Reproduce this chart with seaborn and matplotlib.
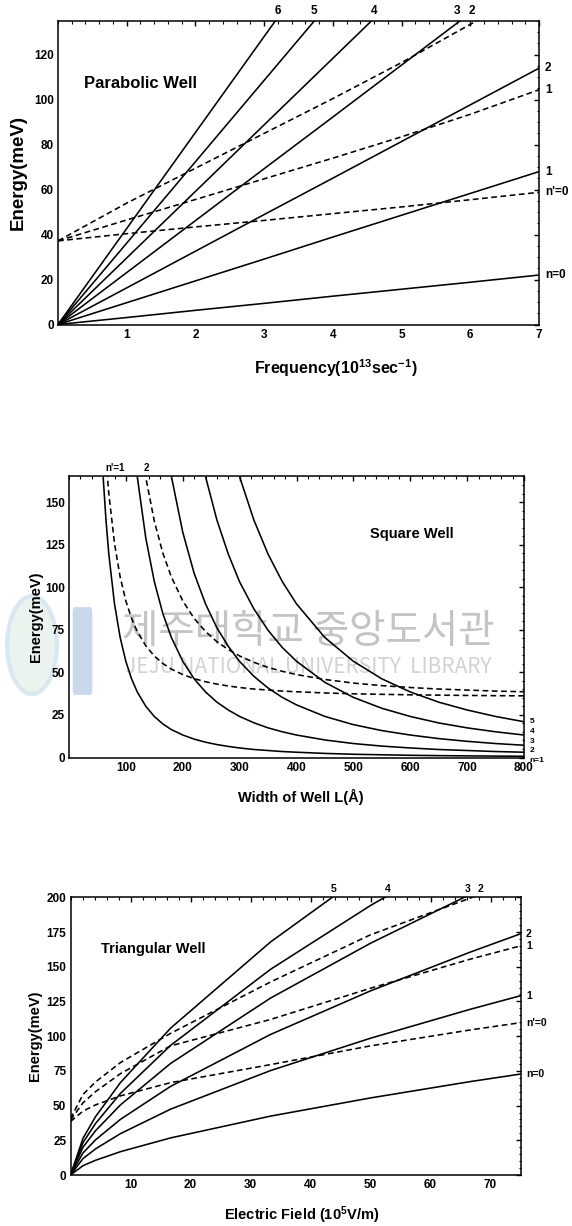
import numpy as np
import pandas as pd
import matplotlib
matplotlib.use("Agg")
import matplotlib.pyplot as plt
from matplotlib.ticker import MultipleLocator
from matplotlib.patches import FancyBboxPatch, Ellipse
import seaborn as sns

nan = np.nan

# ---------------- Parabolic well: energy vs frequency ----------------
freq = [0, 1, 2, 3, 4, 5, 6, 7]
para_n = {
    "n=0": [0, 3.1, 6.3, 9.4, 12.6, 15.7, 18.8, 22.0],
    "1": [0, 9.7, 19.4, 29.1, 38.9, 48.6, 58.3, 68.0],
    "2": [0, 16.3, 32.6, 48.9, 65.1, 81.4, 97.7, 114.0],
    "3": [0, 23.1, 46.2, 69.3, 92.3, 115.4, 138.5, 161.6],
    "4": [0, 29.6, 59.2, 88.8, 118.4, 148.0, 177.6, nan],
    "5": [0, 36.2, 72.4, 108.6, 144.8, nan, nan, nan],
    "6": [0, 42.7, 85.4, 128.1, 170.8, nan, nan, nan],
}
para_np = {
    "n'=0": [37.2, 40.4, 43.4, 46.3, 49.3, 52.3, 55.5, 58.8],
    "1": [37.2, 46.5, 55.6, 64.8, 74.0, 83.5, 93.5, 104.4],
    "2": [37.2, 54.0, 69.5, 85.0, 100.5, 116.5, 133.5, 151.0],
}
para_top = {"6": 3.2, "5": 3.73, "4": 4.6, "3": 5.81, "2": 6.03}
para_right = {"2": 114.0, "1 ": 104.4, "1": 68.0, "n'=0": 58.8, "n=0": 22.0}

# ---------------- Square well: energy vs well width ----------------
width_L = [55, 60, 65, 70, 80, 90, 100, 110, 120, 135, 150, 165, 180, 200, 220,
           240, 260, 280, 300, 325, 350, 375, 400, 450, 500, 550, 600, 650, 700,
           750, 800]
sq_n1 = [198.1, 165.0, 139.5, 119.4, 90.2, 70.4, 56.4, 46.2, 38.5, 30.1, 24.1,
         19.7, 16.4, 13.2, 10.8, 9.0, 7.6, 6.5, 5.6, 4.7, 4.1, 3.5, 3.1, 2.4,
         1.9, 1.6, 1.3, 1.1, 0.95, 0.82, 0.72]
sq_n2 = [nan] * 7 + [198.1, 165.0, 128.9, 103.3, 84.5, 70.5, 56.5, 46.2, 38.5,
                     32.5, 27.9, 24.1, 20.4, 17.4, 15.1, 13.2, 10.3, 8.2, 6.7,
                     5.6, 4.7, 4.1, 3.5, 3.1]
sq_n3 = [nan] * 11 + [198.1, 165.1, 132.3, 108.2, 90.2, 76.2, 65.3, 56.4, 47.7,
                      40.8, 35.3, 30.9, 24.1, 19.3, 15.8, 13.2, 11.1, 9.5, 8.2,
                      7.2]
sq_n4 = [nan] * 14 + [198.0, 165.0, 139.5, 119.5, 103.1, 87.3, 74.7, 64.6, 56.5,
                      44.1, 35.3, 28.9, 24.1, 20.3, 17.4, 15.1, 13.2]
sq_n5 = [nan] * 17 + [190.9, 164.8, 139.5, 119.4, 103.3, 90.2, 70.4, 56.5, 46.2,
                      38.5, 32.5, 27.9, 24.1, 21.0]
sq_np1 = [nan] + [200.5, 175.0, 154.9, 125.7, 105.9, 91.9, 81.7, 74.0, 65.6,
                  59.6, 55.2, 51.9, 48.7, 46.3, 44.5, 43.1, 42.0, 41.1, 40.2,
                  39.6, 39.0, 38.6, 37.9, 37.4, 37.1, 36.8, 36.6, 36.45, 36.3,
                  36.2]
sq_np2 = [nan] * 8 + [200.5, 164.4, 138.8, 120.0, 106.0, 92.0, 81.7, 74.0, 68.0,
                      63.4, 59.6, 55.9, 52.9, 50.6, 48.7, 45.8, 43.7, 42.2, 41.1,
                      40.2, 39.6, 39.0, 38.6]
sq_top = {"n'=1": 81, "2": 136}
sq_right = {"5": 21.0, "4": 15.0, "3": 9.5, "2": 4.0, "n=1": -1.8}

# ---------------- Triangular well: energy vs electric field ----------------
field = [0, 2.08, 4.17, 8.33, 16.67, 33.33, 50, 66.67, 75]
tri_n = {
    "n=0": [0, 6.7, 10.6, 16.8, 26.7, 42.4, 55.5, 67.3, 72.7],
    "1": [0, 11.8, 18.8, 29.8, 47.4, 75.2, 98.5, 119.4, 129.1],
    "2": [0, 15.9, 25.3, 40.1, 63.8, 101.2, 132.6, 160.6, 173.7],
    "3": [0, 20.0, 31.9, 50.5, 80.3, 127.4, 166.9, 202.2, 218.7],
    "4": [0, 23.3, 37.1, 58.8, 93.3, 148.1, 194.1, 235.1, 254.3],
    "5": [0, 26.4, 42.0, 66.6, 105.7, 167.8, 219.9, 266.4, 288.1],
}
tri_np = {
    "n'=0": [38.5, 46.0, 50.5, 57.0, 66.5, 79.5, 93.0, 104.5, 109.7],
    "1": [39.5, 52.0, 60.0, 73.0, 93.0, 112.0, 134.5, 155.5, 165.0],
    "2": [40.5, 58.0, 67.0, 81.0, 102.0, 139.0, 173.0, 199.5, 213.0],
}
tri_top = {"5": 43.8, "4": 52.8, "3": 66.2, "2": 68.3}
tri_right = {"2": 173.7, "1 ": 165.0, "1": 129.1, "n'=0": 109.7, "n=0": 72.7}

# ---------------- styling ----------------
sns.set_theme(style="white")
plt.rcParams["font.family"] = ["Liberation Sans", "DejaVu Sans"]
plt.rcParams["font.weight"] = "bold"
plt.rcParams["text.color"] = "black"
plt.rcParams["axes.labelcolor"] = "black"
plt.rcParams["xtick.color"] = "black"
plt.rcParams["ytick.color"] = "black"
plt.rcParams["mathtext.fontset"] = "custom"
plt.rcParams["mathtext.rm"] = "Liberation Sans:bold"
plt.rcParams["mathtext.it"] = "Liberation Sans:bold"
plt.rcParams["mathtext.bf"] = "Liberation Sans:bold"
plt.rcParams["axes.linewidth"] = 1.1

LW = 1.15
DASH = (0, (3.6, 2.2))
TICK = 8.5

fig = plt.figure(figsize=(5.72, 12.26), dpi=100)
W, H = 572.0, 1226.0


def add_axes(left, right, top, bottom):
    return fig.add_axes([left / W, 1 - bottom / H, (right - left) / W, (bottom - top) / H])


def style_axes(ax, tick_size):
    ax.tick_params(which="both", direction="in", top=True, right=True,
                   labeltop=False, labelright=False, colors="black",
                   labelsize=tick_size, pad=3)
    ax.tick_params(which="major", length=3.5, width=1.0)
    ax.tick_params(which="minor", length=1.8, width=0.8)
    for lab in ax.get_xticklabels() + ax.get_yticklabels():
        lab.set_fontweight("bold")
    for s in ax.spines.values():
        s.set_color("black")


def draw(ax, x, y, dashed=False):
    df = pd.DataFrame({"x": x, "y": y}).dropna()
    sns.lineplot(data=df, x="x", y="y", ax=ax, color="black", linewidth=LW,
                 linestyle=DASH if dashed else "-", sort=True, estimator=None)


def labels_right(ax, items, size):
    for txt, yv in items.items():
        ax.text(1.012, yv, txt.strip(), transform=ax.get_yaxis_transform(),
                ha="left", va="center", fontsize=size, fontweight="bold",
                clip_on=False)


def labels_top(ax, items, size):
    for txt, xv in items.items():
        ax.text(xv, 1.012, txt, transform=ax.get_xaxis_transform(),
                ha="center", va="bottom", fontsize=size, fontweight="bold",
                clip_on=False)


# ---- panel 1 ----
ax1 = add_axes(58, 539, 21, 324.5)
for vals in para_n.values():
    draw(ax1, freq, vals)
for vals in para_np.values():
    draw(ax1, freq, vals, dashed=True)
ax1.set_xlim(0, 7)
ax1.set_ylim(0, 135)
ax1.set_xticks([1, 2, 3, 4, 5, 6, 7])
ax1.set_yticks([0, 20, 40, 60, 80, 100, 120])
ax1.xaxis.set_minor_locator(MultipleLocator(0.2))
ax1.yaxis.set_minor_locator(MultipleLocator(5))
style_axes(ax1, TICK)
ax1.set_xlabel(r"Frequency(10$^{13}$sec$^{-1}$)", fontsize=11.5, fontweight="bold")
ax1.set_ylabel("Energy(meV)", fontsize=13.5, fontweight="bold")
ax1.xaxis.set_label_coords(0.578, -0.145)
ax1.xaxis.label.set_va("center")
ax1.yaxis.set_label_coords(-0.083, 0.5)
ax1.yaxis.label.set_va("center")
ax1.text(0.38, 107, "Parabolic Well", fontsize=12, fontweight="bold",
         ha="left", va="center")
labels_top(ax1, para_top, 8.5)
labels_right(ax1, para_right, 8.5)

# ---- panel 2 ----
# faint library stamp behind the square-well curves
fig.patches.append(Ellipse((32 / W, 1 - 645 / H), 50 / W, 98 / H,
                           transform=fig.transFigure, facecolor="#e6f0ea",
                           edgecolor="#d3e4ef", linewidth=3, alpha=0.8,
                           zorder=-2))
fig.patches.append(FancyBboxPatch((75 / W, 1 - 690 / H), 15 / W, 78 / H,
                                  boxstyle="round,pad=0.004",
                                  transform=fig.transFigure,
                                  facecolor="#bccfe8", edgecolor="none",
                                  alpha=0.8, zorder=-2))
ax2 = add_axes(69, 524, 476.5, 757.5)
ax2.set_facecolor("none")
ax2.text(0.525, 0.447, "제주대학교 중앙도서관", transform=ax2.transAxes,
         fontsize=28.5, color="#c4c4c4", ha="center", va="center",
         family=["Noto Sans CJK KR"], fontweight="normal", zorder=0.5)
ax2.text(0.525, 0.322, "JEJU NATIONAL UNIVERSITY  LIBRARY", transform=ax2.transAxes,
         fontsize=15, color="#d2d2d2", ha="center", va="center",
         family=["Noto Sans CJK KR"], fontweight="normal", zorder=0.5)
for vals in (sq_n1, sq_n2, sq_n3, sq_n4, sq_n5):
    draw(ax2, width_L, vals)
for vals in (sq_np1, sq_np2):
    draw(ax2, width_L, vals, dashed=True)
ax2.set_xlim(0, 800)
ax2.set_ylim(0, 165)
ax2.set_xticks([100, 200, 300, 400, 500, 600, 700, 800])
ax2.set_yticks([0, 25, 50, 75, 100, 125, 150])
ax2.xaxis.set_minor_locator(MultipleLocator(20))
ax2.yaxis.set_minor_locator(MultipleLocator(5))
style_axes(ax2, TICK)
ax2.set_xlabel("Width of Well L(Å)", fontsize=10.5, fontweight="bold")
ax2.set_ylabel("Energy(meV)", fontsize=10.5, fontweight="bold")
ax2.xaxis.set_label_coords(0.51, -0.142)
ax2.xaxis.label.set_va("center")
ax2.yaxis.set_label_coords(-0.073, 0.5)
ax2.yaxis.label.set_va("center")
ax2.text(603, 131, "Square Well", fontsize=10.5, fontweight="bold",
         ha="center", va="center")
labels_top(ax2, sq_top, 7)
labels_right(ax2, sq_right, 6)

# ---- panel 3 ----
ax3 = add_axes(70.5, 520.5, 897.3, 1175)
for vals in tri_n.values():
    draw(ax3, field, vals)
for vals in tri_np.values():
    draw(ax3, field, vals, dashed=True)
ax3.set_xlim(0, 75)
ax3.set_ylim(0, 200)
ax3.set_xticks([10, 20, 30, 40, 50, 60, 70])
ax3.set_yticks([0, 25, 50, 75, 100, 125, 150, 175, 200])
ax3.xaxis.set_minor_locator(MultipleLocator(2))
ax3.yaxis.set_minor_locator(MultipleLocator(5))
style_axes(ax3, TICK)
ax3.set_xlabel(r"Electric Field (10$^{5}$V/m)", fontsize=10.5, fontweight="bold")
ax3.set_ylabel("Energy(meV)", fontsize=10.5, fontweight="bold")
ax3.xaxis.set_label_coords(0.514, -0.144)
ax3.xaxis.label.set_va("center")
ax3.yaxis.set_label_coords(-0.078, 0.5)
ax3.yaxis.label.set_va("center")
ax3.text(13.8, 163, "Triangular Well", fontsize=10.5, fontweight="bold",
         ha="center", va="center")
labels_top(ax3, tri_top, 7.5)
labels_right(ax3, tri_right, 7.5)

fig.savefig("out.png", dpi=100, facecolor="white")
